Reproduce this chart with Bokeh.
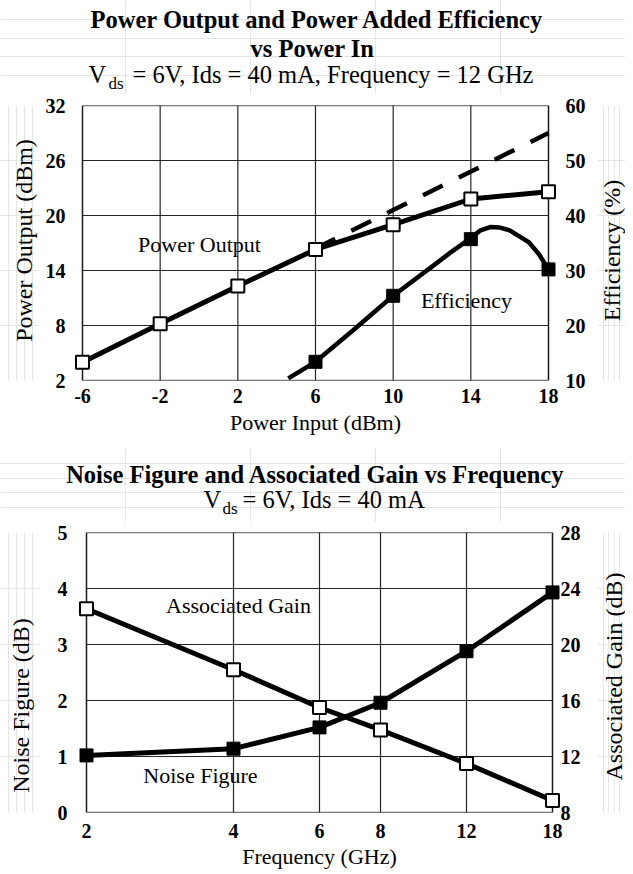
import math
from bokeh.plotting import figure
from bokeh.models import Range1d, LinearAxis, FixedTicker, Label, BasicTickFormatter, BoxAnnotation
from bokeh.layouts import column, row
from bokeh.embed import file_html
from bokeh.resources import INLINE

# ---------------- data: top chart ----------------
pin = [-6, -2, 2, 6, 10, 14, 18]
pout = [4.0, 8.2, 12.3, 16.3, 19.0, 21.8, 22.6]
eff_x = [6, 10, 14, 18]
eff = [13.4, 25.4, 35.7, 30.2]
eff_curve_x = [4.6, 6, 8, 10, 12, 13, 14, 14.5, 15, 15.5, 16, 17, 17.5, 18]
eff_curve = [10.4, 13.4, 19.3, 25.4, 30.7, 33.4, 35.9, 37.3, 37.9, 37.8, 37.3, 35.1, 33.0, 30.2]
lin_x = [6, 18]
lin_pout = [16.4, 29.0]
pin_ticks = [-6, -2, 2, 6, 10, 14, 18]
pout_ticks = [2, 8, 14, 20, 26, 32]
eff_ticks = [10, 20, 30, 40, 50, 60]

# ---------------- data: bottom chart ----------------
freq = [2, 4, 6, 8, 12, 18]
nf = [1.02, 1.14, 1.52, 1.96, 2.88, 3.93]
gain = [22.55, 18.2, 15.5, 13.9, 11.5, 8.86]
freq_ticks = [2, 4, 6, 8, 12, 18]
nf_ticks = [0, 1, 2, 3, 4, 5]
gain_ticks = [8, 12, 16, 20, 24, 28]

FONT = "Liberation Serif"
PADX = 8          # px of frame beyond the drawn box (so edge markers are not clipped)
BOXW = 466        # drawn box width in px


def style_axis(ax, standoff):
    ax.axis_line_color = None
    ax.major_tick_line_color = None
    ax.minor_tick_line_color = None
    ax.major_tick_in = 0
    ax.major_tick_out = 0
    ax.major_label_text_font = FONT
    ax.major_label_text_font_size = "20px"
    ax.major_label_text_font_style = "bold"
    ax.major_label_text_color = "black"
    ax.major_label_standoff = standoff
    ax.axis_label_text_color = "black"


def style_fig(p):
    p.outline_line_color = None
    p.background_fill_color = "white"
    p.border_fill_color = "white"
    p.xgrid.visible = False
    p.ygrid.visible = False


def grid_and_box(p, xt, yt):
    n = len(xt)
    m = len(yt)
    p.segment(x0=xt, y0=[yt[0]] * n, x1=xt, y1=[yt[-1]] * n,
              line_color="black", line_width=1.2, line_alpha=0.85)
    p.segment(x0=[xt[0]] * m, y0=yt, x1=[xt[-1]] * m, y1=yt,
              line_color="black", line_width=1.2, line_alpha=0.85)
    p.add_layout(BoxAnnotation(left=xt[0], right=xt[-1], bottom=yt[0], top=yt[-1],
                               fill_alpha=0, line_color="black", line_width=2,
                               level="underlay"))


def blank(w, h):
    f = figure(width=w, height=h, x_range=Range1d(0, 1), y_range=Range1d(0, 1),
               x_axis_location=None, y_axis_location=None, output_backend="svg",
               toolbar_location=None, min_border=0)
    f.outline_line_color = None
    f.background_fill_color = "white"
    f.border_fill_color = "white"
    return f


def add_text(p, fl, fb, text, px, py, size=22.0, bold=False, align="left",
             baseline="alphabetic", angle=0.0):
    # fl, fb: page position of the frame's left / bottom edge
    corr = 0.37 * size if baseline == "alphabetic" else 0.0
    p.add_layout(Label(x=px - fl, y=fb - py + corr, x_units="screen", y_units="screen",
                       text=text, text_font=FONT, text_font_size=f"{size}px",
                       text_font_style="bold" if bold else "normal",
                       text_color="black", text_align=align,
                       text_baseline=baseline, angle=angle))


LW, PW, RW = 40, 557, 28
TS = 24.5   # title font size

# ================= top titles =================
T1 = blank(LW + PW + RW, 94)
add_text(T1, 0, 94, "Power Output and Power Added Efficiency", 317, 28, TS, True, "center")
add_text(T1, 0, 94, "vs Power In", 312, 57, TS, True, "center")
add_text(T1, 0, 94, "V", 88, 83, TS)
add_text(T1, 0, 94, "ds", 108, 89, 17)
add_text(T1, 0, 94, "= 6V, Ids = 40 mA, Frequency = 12 GHz", 132, 83, TS)

# ================= top chart =================
px1 = (pin_ticks[-1] - pin_ticks[0]) * PADX / BOXW
p1 = figure(width=PW, height=354,
            x_range=Range1d(pin_ticks[0] - px1, pin_ticks[-1] + px1),
            y_range=Range1d(pout_ticks[0], pout_ticks[-1]),
            output_backend="svg", toolbar_location=None,
            min_border_left=34, min_border_right=41, min_border_top=11, min_border_bottom=68)
style_fig(p1)
p1.extra_y_ranges = {"eff": Range1d(eff_ticks[0], eff_ticks[-1])}
p1.xaxis.ticker = FixedTicker(ticks=pin_ticks)
p1.xaxis.major_label_overrides = {t: str(t) for t in pin_ticks}
p1.yaxis.ticker = FixedTicker(ticks=pout_ticks)
ax_r1 = LinearAxis(y_range_name="eff", ticker=FixedTicker(ticks=eff_ticks))
p1.add_layout(ax_r1, "right")
style_axis(p1.xaxis[0], 8)
style_axis(p1.yaxis[0], 9)
style_axis(ax_r1, 9)
p1.xaxis.axis_label = "Power Input (dBm)"
p1.xaxis.axis_label_text_font = FONT
p1.xaxis.axis_label_text_font_size = "22px"
p1.xaxis.axis_label_text_font_style = "normal"
p1.xaxis.axis_label_standoff = 4
grid_and_box(p1, pin_ticks, pout_ticks)

p1.line(lin_x, lin_pout, line_color="black", line_width=4.5, line_dash="22 18")
p1.line(pin, pout, line_color="black", line_width=5, line_join="round")
p1.line(eff_curve_x, eff_curve, y_range_name="eff", line_color="black", line_width=4.5,
        line_join="round")
p1.scatter(pin, pout, marker="square", size=13, fill_color="white", line_color="black",
           line_width=2)
p1.scatter(eff_x, eff, y_range_name="eff", marker="square", size=13, fill_color="black",
           line_color="black")

FL1, FB1 = 74, 380
add_text(p1, FL1, FB1, "Power Output", 199, 252, 22, False, "center")
add_text(p1, FL1, FB1, "Efficiency", 466, 308, 22, False, "center")

# side strips: their frames align with the chart frame in the row
L1 = blank(LW, 354)
add_text(L1, 0, FB1, "Power Output (dBm)", 23, 240, 24, False, "center", "middle", math.pi / 2)
R1 = blank(RW, 354)
add_text(R1, LW + PW, FB1, "Efficiency (%)", 611, 250, 24, False, "center", "middle", math.pi / 2)

# ================= bottom titles =================
T2 = blank(LW + PW + RW, 74)
add_text(T2, 0, 522, "Noise Figure and Associated Gain vs Frequency", 315, 483, TS, True, "center")
add_text(T2, 0, 522, "V", 203, 508, TS)
add_text(T2, 0, 522, "ds", 222, 514, 17)
add_text(T2, 0, 522, "= 6V, Ids = 40 mA", 242, 508, TS)

# ================= bottom chart =================
lspan = math.log10(freq_ticks[-1] / freq_ticks[0])
fpad = 10 ** (lspan * PADX / BOXW)
p2 = figure(width=PW, height=350, x_axis_type="log",
            x_range=Range1d(freq_ticks[0] / fpad, freq_ticks[-1] * fpad),
            y_range=Range1d(nf_ticks[0], nf_ticks[-1]),
            output_backend="svg", toolbar_location=None,
            min_border_left=38, min_border_right=37, min_border_top=10, min_border_bottom=60)
style_fig(p2)
p2.extra_y_ranges = {"gain": Range1d(gain_ticks[0], gain_ticks[-1])}
p2.xaxis.ticker = FixedTicker(ticks=freq_ticks)
p2.xaxis.formatter = BasicTickFormatter()
p2.xaxis.major_label_overrides = {t: str(t) for t in freq_ticks}
p2.yaxis.ticker = FixedTicker(ticks=nf_ticks)
ax_r2 = LinearAxis(y_range_name="gain", ticker=FixedTicker(ticks=gain_ticks))
p2.add_layout(ax_r2, "right")
style_axis(p2.xaxis[0], 11)
style_axis(p2.yaxis[0], 11)
style_axis(ax_r2, 0)
p2.xaxis.axis_label = "Frequency (GHz)"
p2.xaxis.axis_label_text_font = FONT
p2.xaxis.axis_label_text_font_size = "22px"
p2.xaxis.axis_label_text_font_style = "normal"
p2.xaxis.axis_label_standoff = 3
grid_and_box(p2, freq_ticks, nf_ticks)

p2.line(freq, gain, y_range_name="gain", line_color="black", line_width=5, line_join="round")
p2.line(freq, nf, line_color="black", line_width=5, line_join="round")
p2.scatter(freq, gain, y_range_name="gain", marker="square", size=13, fill_color="white",
           line_color="black", line_width=2)
p2.scatter(freq, nf, marker="square", size=13, fill_color="black", line_color="black")

FL2, FB2 = 78, 812
add_text(p2, FL2, FB2, "Associated Gain", 238, 613, 22, False, "center")
add_text(p2, FL2, FB2, "Noise Figure", 200, 783, 22, False, "center")

L2 = blank(LW, 350)
add_text(L2, 0, FB2, "Noise Figure (dB)", 20, 705, 24, False, "center", "middle", math.pi / 2)
R2 = blank(RW, 350)
add_text(R2, LW + PW, FB2, "Associated Gain (dB)", 613, 676, 24, False, "center", "middle", math.pi / 2)

layout = column(T1, row(L1, p1, R1, spacing=0), T2, row(L2, p2, R2, spacing=0), spacing=0)
open("out.html", "w").write(file_html(layout, INLINE))
